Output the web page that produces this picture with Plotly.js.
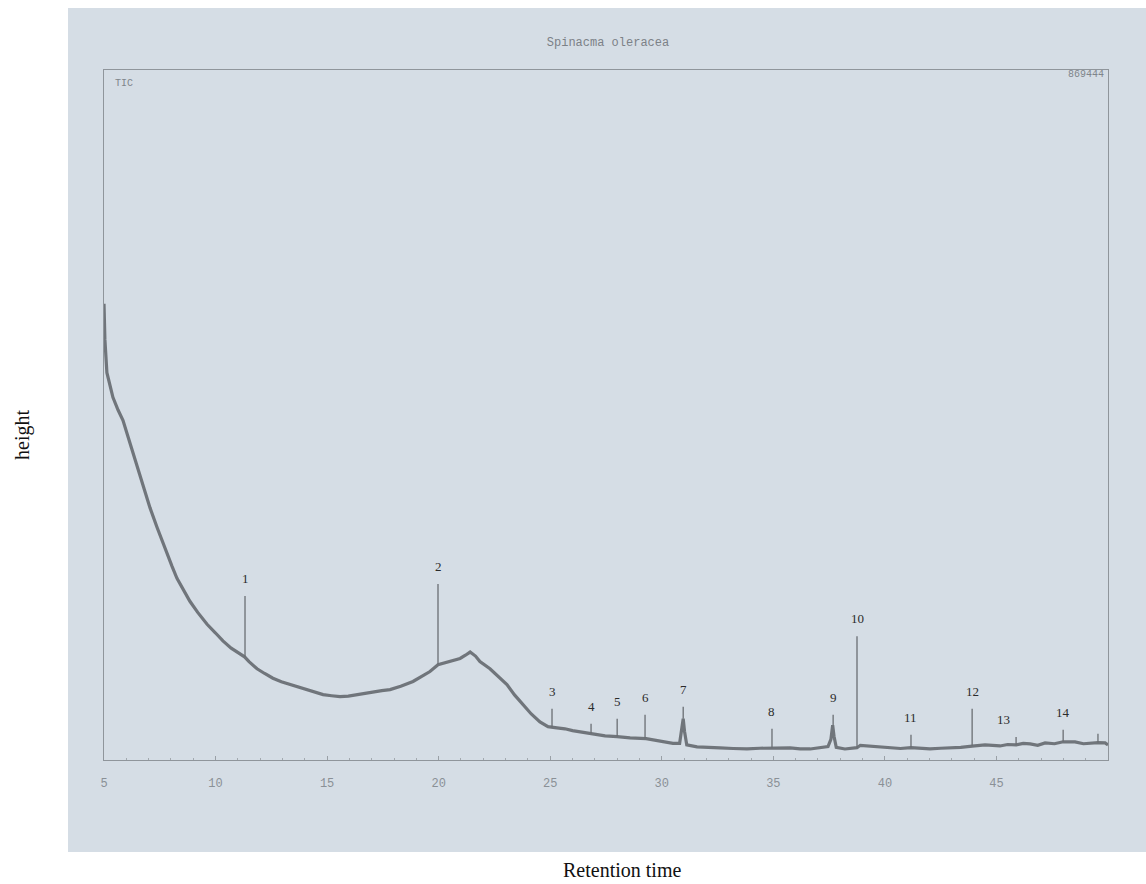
<!DOCTYPE html>
<html>
<head>
<meta charset="utf-8">
<script src="https://cdn.plot.ly/plotly-3.0.1.min.js"></script>
<style>html,body{margin:0;padding:0;background:#fff;}#chart{width:1146px;height:884px;}</style>
</head>
<body>
<div id="chart"></div>
<script>
// Retention time (min) and TIC intensity of the background trace
const traceTime = [5.00, 5.04, 5.13, 5.27, 5.40, 5.63, 5.85, 6.08, 6.30, 6.61, 6.85, 7.06, 7.38, 7.60, 7.82, 8.05, 8.27, 8.55, 8.85, 9.20, 9.62, 10.00, 10.33, 10.70, 11.10, 11.30, 11.50, 11.86, 12.20, 12.57, 12.95, 13.34, 13.70, 14.10, 14.45, 14.82, 15.20, 15.58, 15.95, 16.34, 16.70, 17.06, 17.45, 17.82, 18.30, 18.85, 19.25, 19.61, 19.97, 20.51, 20.96, 21.20, 21.41, 21.65, 21.85, 22.30, 22.70, 23.06, 23.40, 23.78, 24.15, 24.54, 24.90, 25.30, 25.66, 26.00, 26.34, 26.90, 27.46, 28.00, 28.58, 29.30, 30.06, 30.50, 30.80, 30.90, 30.96, 31.02, 31.12, 31.58, 32.10, 32.61, 33.20, 33.82, 34.40, 34.94, 35.10, 35.75, 36.20, 36.65, 37.32, 37.45, 37.58, 37.66, 37.72, 37.82, 38.21, 38.60, 38.75, 38.90, 39.33, 39.80, 40.23, 40.70, 41.17, 41.60, 42.02, 42.50, 42.92, 43.40, 43.91, 44.49, 45.16, 45.50, 45.88, 46.20, 46.51, 46.85, 47.18, 47.60, 47.99, 48.52, 48.90, 49.20, 49.55, 49.87, 50.00];
const traceTIC = [575000, 530000, 488000, 473000, 457000, 441000, 428000, 407000, 387000, 361000, 338000, 318000, 293000, 276000, 260000, 244000, 229000, 214000, 200000, 186000, 171000, 160000, 150000, 141000, 133000, 130000, 124000, 115000, 109000, 103000, 98500, 95000, 91500, 88700, 85500, 82400, 81000, 79800, 80500, 82400, 84000, 86200, 87500, 88700, 93000, 99000, 105000, 111500, 120000, 124000, 128000, 132000, 136000, 131000, 124000, 115000, 105000, 95000, 82000, 70000, 58000, 48000, 42000, 40500, 39300, 37000, 35500, 33000, 30400, 29500, 27900, 27000, 22800, 21000, 21000, 38000, 52000, 36000, 19000, 16500, 15500, 15200, 14500, 13900, 14800, 15500, 15000, 15200, 14000, 13900, 16500, 17000, 26000, 44000, 30000, 16000, 13900, 14500, 15500, 18500, 17700, 16000, 15200, 14500, 15500, 14500, 13900, 14800, 15200, 16000, 17500, 19000, 17700, 19500, 19000, 21000, 20300, 18500, 21500, 20500, 23000, 22800, 20500, 21500, 22000, 21500, 19000];

// Numbered peaks
const peakLabels = ["1", "2", "3", "4", "5", "6", "7", "8", "9", "10", "11", "12", "13", "14"];
const peakTime   = [11.32, 19.97, 25.08, 26.83, 28.00, 29.25, 30.96, 34.94, 37.68, 38.75, 41.17, 43.91, 45.88, 47.99];
const peakTop    = [206600, 221800, 64600, 45600, 52000, 57000, 67200, 39300, 57000, 155900, 31700, 64600, 29100, 38000];
const peakBase   = [130000, 120000, 41000, 33500, 29500, 27500, 52000, 15500, 44000, 15500, 15500, 17500, 19000, 23000];

// Unnumbered small spike
const minorTime = [49.55];
const minorTop  = [33000];
const minorBase = [22000];

const tickValues = [5, 10, 15, 20, 25, 30, 35, 40, 45];
const yMax = 869444;

const spikeX = [], spikeY = [];
peakTime.forEach((t, i) => { spikeX.push(t, t, null); spikeY.push(peakBase[i], peakTop[i], null); });
minorTime.forEach((t, i) => { spikeX.push(t, t, null); spikeY.push(minorBase[i], minorTop[i], null); });

const traces = [
  {x: traceTime, y: traceTIC, type: 'scatter', mode: 'lines', hoverinfo: 'skip',
   line: {color: 'rgba(98,102,108,0.88)', width: 3.2}},
  {x: spikeX, y: spikeY, type: 'scatter', mode: 'lines', hoverinfo: 'skip',
   line: {color: '#6a6e73', width: 1.3}}
];

const L = 104, R = 38, T = 70, B = 124, W = 1146, H = 884;
const pw = W - L - R, ph = H - T - B;

const annotations = peakLabels.map((lab, i) => ({
  x: peakTime[i], y: peakTop[i], xref: 'x', yref: 'y', text: lab, showarrow: false,
  yanchor: 'bottom', yshift: 8, xshift: lab === '13' ? -13 : 0,
  font: {family: 'Liberation Serif, serif', size: 13, color: '#2b2b2b'}
}));
annotations.push(
  {x: 0.009, y: 0.981, xref: 'paper', yref: 'paper', text: 'TIC', showarrow: false, xanchor: 'left', yanchor: 'middle',
   font: {family: 'Liberation Mono, monospace', size: 10, color: '#7f858b'}},
  {x: 0.998, y: 0.993, xref: 'paper', yref: 'paper', text: '869444', showarrow: false, xanchor: 'right', yanchor: 'middle',
   font: {family: 'Liberation Mono, monospace', size: 10, color: '#7f858b'}},
  {x: (622 - L) / pw, y: (H - B - 870) / ph, xref: 'paper', yref: 'paper', text: 'Retention time', showarrow: false,
   xanchor: 'center', yanchor: 'middle',
   font: {family: 'Liberation Serif, serif', size: 20, color: '#111'}},
  {x: (22 - L) / pw, y: (H - B - 435) / ph, xref: 'paper', yref: 'paper', text: 'height', showarrow: false, textangle: -90,
   xanchor: 'center', yanchor: 'middle',
   font: {family: 'Liberation Serif, serif', size: 20, color: '#111'}}
);

const scanColor = '#d5dde5';
const layout = {
  width: W, height: H,
  margin: {l: L, r: R, t: T, b: B, pad: 0},
  paper_bgcolor: '#ffffff',
  plot_bgcolor: scanColor,
  showlegend: false,
  title: {text: 'Spinacma oleracea', xref: 'container', yref: 'container', x: 608 / W, y: 1 - 42 / H,
          xanchor: 'center', yanchor: 'middle',
          font: {family: 'Liberation Mono, monospace', size: 12, color: '#7c8187'}},
  xaxis: {range: [5, 50], tickvals: tickValues, ticks: 'inside', ticklen: 4, tickcolor: '#9aa0a6',
          minor: {dtick: 1, ticks: 'inside', ticklen: 2, tickcolor: '#a3a9af'},
          showgrid: false, zeroline: false, showline: true, mirror: true, linecolor: '#8f959b', linewidth: 1,
          ticklabelstandoff: 12,
          tickfont: {family: 'Liberation Mono, monospace', size: 12, color: '#8a9096'}},
  yaxis: {range: [0, yMax], showticklabels: false, ticks: '', showgrid: false, zeroline: false,
          showline: true, mirror: true, linecolor: '#8f959b', linewidth: 1},
  shapes: [{type: 'rect', xref: 'paper', yref: 'paper', layer: 'below',
            x0: (68 - L) / pw, x1: (W - L) / pw, y0: (H - B - 852) / ph, y1: (H - B - 8) / ph,
            fillcolor: scanColor, line: {width: 0}}],
  annotations: annotations
};

Plotly.newPlot('chart', traces, layout, {displayModeBar: false, staticPlot: true});
</script>
</body>
</html>
